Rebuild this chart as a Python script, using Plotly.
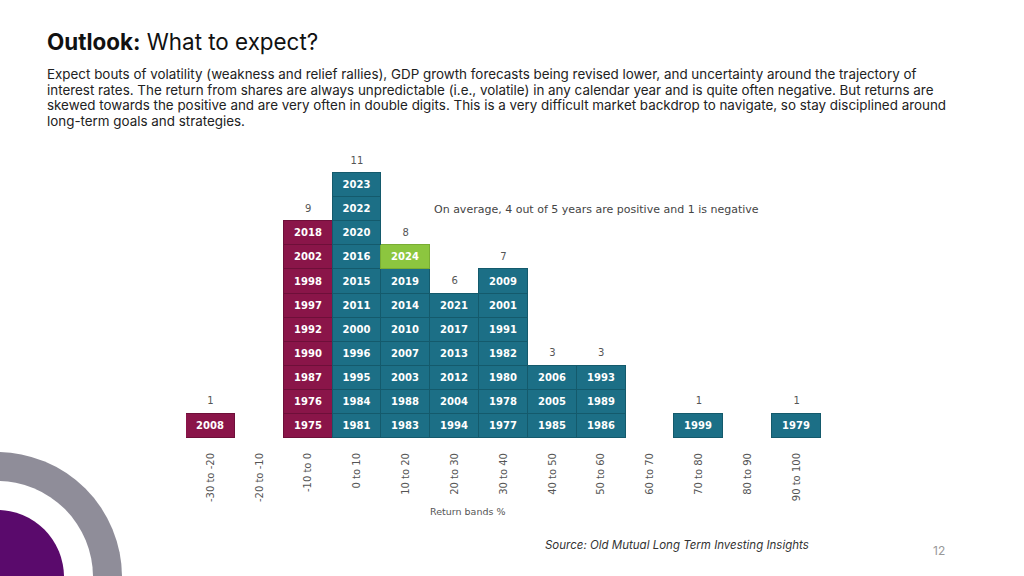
import plotly.graph_objects as go

# ---------------- data ----------------
bands = ["-30 to -20", "-20 to -10", "-10 to 0", "0 to 10", "10 to 20", "20 to 30",
         "30 to 40", "40 to 50", "50 to 60", "60 to 70", "70 to 80", "80 to 90", "90 to 100"]
negative_bands = ["-30 to -20", "-20 to -10", "-10 to 0"]
years_m30 = [2008]
years_m20 = []
years_m10 = [1975, 1976, 1987, 1990, 1992, 1997, 1998, 2002, 2018]
years_0 = [1981, 1984, 1995, 1996, 2000, 2011, 2015, 2016, 2020, 2022, 2023]
years_10 = [1983, 1988, 2003, 2007, 2010, 2014, 2019, 2024]
years_20 = [1994, 2004, 2012, 2013, 2017, 2021]
years_30 = [1977, 1978, 1980, 1982, 1991, 2001, 2009]
years_40 = [1985, 2005, 2006]
years_50 = [1986, 1989, 1993]
years_60 = []
years_70 = [1999]
years_80 = []
years_90 = [1979]
years_by_band = [years_m30, years_m20, years_m10, years_0, years_10, years_20, years_30,
                 years_40, years_50, years_60, years_70, years_80, years_90]
highlight_year = 2024

title_bold = "Outlook:"
title_rest = " What to expect?"
body_lines = [
    "Expect bouts of volatility (weakness and relief rallies), GDP growth forecasts being revised lower, and uncertainty around the trajectory of",
    "interest rates. The return from shares are always unpredictable (i.e., volatile) in any calendar year and is quite often negative. But returns are",
    "skewed towards the positive and are very often in double digits. This is a very difficult market backdrop to navigate, so stay disciplined around",
    "long-term goals and strategies.",
]
note_text = "On average, 4 out of 5 years are positive and 1 is negative"
axis_title = "Return bands %"
source_text = "Source: Old Mutual Long Term Investing Insights"
page_num = "12"

# ---------------- style ----------------
W, H = 1024, 576
MAROON = "#8a1549"
MAROON_LINE = "#6e0f39"
TEAL = "#1c6f86"
TEAL_LINE = "#145a6c"
GREEN = "#8cc63f"
GREEN_LINE = "#79ad33"
CHART_FONT = "'DejaVu Sans', sans-serif"
SLIDE_FONT = "Inter, 'Noto Sans', sans-serif"

def px_x(p):
    return p / W

def px_y(p):
    return 1 - p / H

fig = go.Figure()

max_n = max(len(y) for y in years_by_band)
for level in range(max_n):
    xs, ys, txt, cols, lcols = [], [], [], [], []
    for band, yrs in zip(bands, years_by_band):
        if len(yrs) > level:
            yr = yrs[level]
            xs.append(band)
            ys.append(1)
            txt.append(str(yr))
            if yr == highlight_year:
                cols.append(GREEN); lcols.append(GREEN_LINE)
            elif band in negative_bands:
                cols.append(MAROON); lcols.append(MAROON_LINE)
            else:
                cols.append(TEAL); lcols.append(TEAL_LINE)
    fig.add_trace(go.Bar(
        x=xs, y=ys, text=txt, textposition="inside", insidetextanchor="middle",
        textangle=0, constraintext="none",
        textfont=dict(color="white", size=10, family=CHART_FONT, weight="bold"),
        marker=dict(color=cols, line=dict(color=lcols, width=1)),
        width=1.0, showlegend=False, hoverinfo="skip", cliponaxis=False,
    ))

# count labels above stacks
cnt_x = [b for b, y in zip(bands, years_by_band) if len(y) > 0]
cnt_n = [len(y) for y in years_by_band if len(y) > 0]
fig.add_trace(go.Scatter(
    x=cnt_x, y=[n + 0.5 for n in cnt_n], mode="text", text=[str(n) for n in cnt_n],
    textfont=dict(color="#555555", size=10, family=CHART_FONT), showlegend=False,
    hoverinfo="skip", cliponaxis=False,
))

fig.update_layout(
    width=W, height=H, barmode="stack", bargap=0,
    margin=dict(l=0, r=0, t=0, b=0),
    paper_bgcolor="white", plot_bgcolor="white",
    xaxis=dict(domain=[px_x(186), px_x(821)], type="category", categoryorder="array",
               categoryarray=bands, range=[-0.5, 12.5], tickangle=-90,
               tickfont=dict(size=10, color="#555555", family=CHART_FONT),
               showgrid=False, showline=False, zeroline=False, ticks="",
               ticklabelstandoff=12, automargin=False),
    yaxis=dict(domain=[px_y(438), px_y(149)], range=[0, 12], visible=False,
               showgrid=False, zeroline=False, automargin=False),
)

annotations = [
    dict(text=f"<b>{title_bold}</b>{title_rest}", x=px_x(45), y=px_y(42), xref="paper", yref="paper",
         xanchor="left", yanchor="middle", showarrow=False,
         font=dict(size=22.4, color="#111111", family=SLIDE_FONT)),
    dict(text=note_text, x=px_x(596), y=px_y(210), xref="paper", yref="paper",
         xanchor="center", yanchor="middle", showarrow=False,
         font=dict(size=11, color="#444444", family=CHART_FONT)),
    dict(text=axis_title, x=px_x(467), y=px_y(511), xref="paper", yref="paper",
         xanchor="center", yanchor="middle", showarrow=False,
         font=dict(size=9.5, color="#555555", family=CHART_FONT)),
    dict(text=f"<i>{source_text}</i>", x=px_x(543), y=px_y(545), xref="paper", yref="paper",
         xanchor="left", yanchor="middle", showarrow=False,
         font=dict(size=11.5, color="#333333", family=SLIDE_FONT)),
    dict(text=page_num, x=px_x(939), y=px_y(550), xref="paper", yref="paper",
         xanchor="center", yanchor="middle", showarrow=False,
         font=dict(size=12, color="#999999", family=SLIDE_FONT)),
]
line_y = [74, 89.6, 105.2, 120.8]
for ln, yy in zip(body_lines, line_y):
    annotations.append(dict(text=ln, x=px_x(45), y=px_y(yy), xref="paper", yref="paper",
                            xanchor="left", yanchor="middle", align="left", showarrow=False,
                            font=dict(size=13.4, color="#222222", family=SLIDE_FONT)))
fig.update_layout(annotations=annotations)

# decorative rings bottom-left
def circle(cx, cy, r, color):
    return dict(type="circle", xref="paper", yref="paper",
                x0=px_x(cx - r), x1=px_x(cx + r), y0=px_y(cy + r), y1=px_y(cy - r),
                fillcolor=color, line=dict(width=0), layer="below")

fig.update_layout(shapes=[
    circle(-3, 577, 125, "#8f8d99"),
    circle(-3, 577, 96, "white"),
    circle(-3, 577, 67, "#5a0a6c"),
])

fig.write_html("out.html", config={"displayModeBar": False},
               post_script="document.body.style.margin='0px';")
